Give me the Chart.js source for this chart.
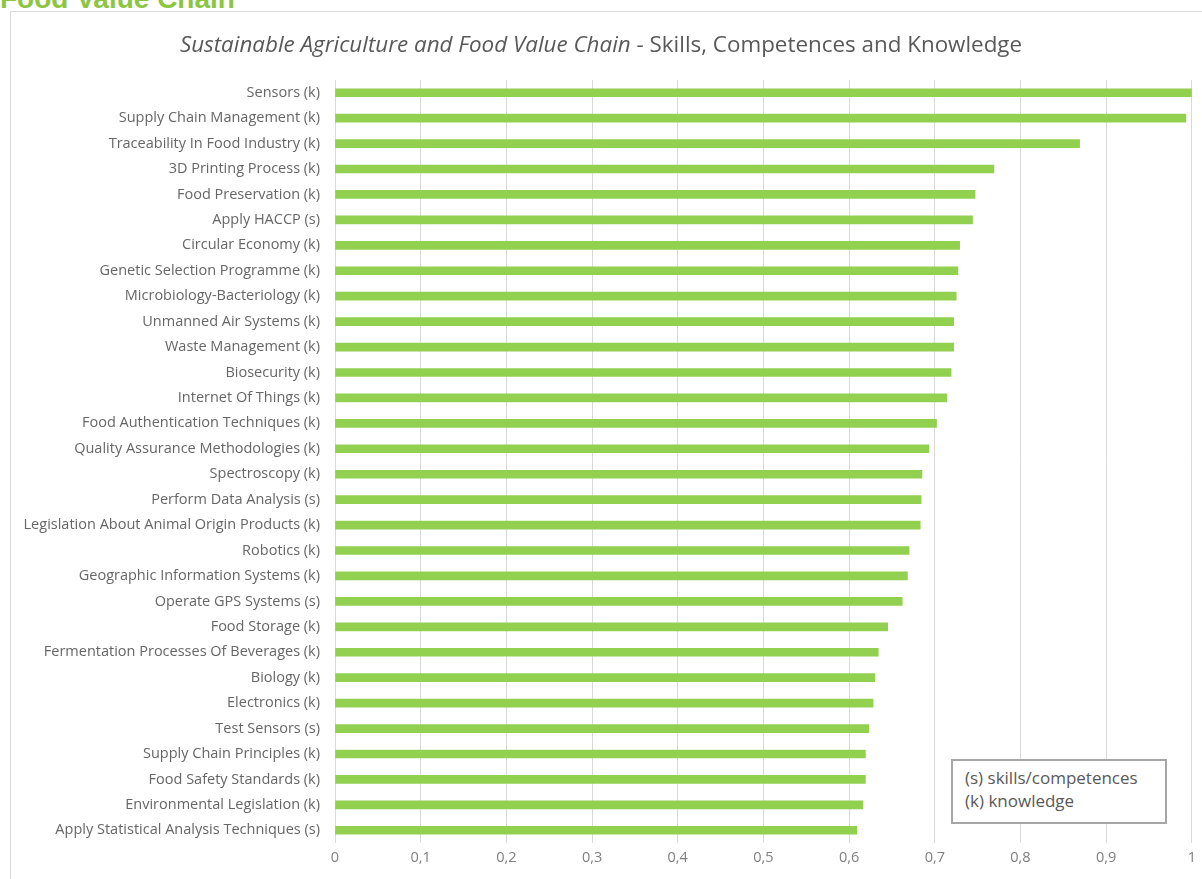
<!DOCTYPE html>
<html>
<head>
<meta charset="utf-8">
<script src="https://cdn.jsdelivr.net/npm/chart.js@4"></script>
<style>
    body { margin: 0; background: #fff; font-family: "Open Sans", sans-serif; }
    .page { position: relative; width: 1202px; height: 879px; overflow: hidden; }
    .header { position: absolute; left: 0; top: -17px; font: bold 28px "Liberation Sans", Arial, sans-serif; color: #8cc63f; }
    .frame { position: absolute; left: 10px; top: 11px; width: 1200px; height: 900px; border: 1px solid #d9d9d9; }
    .title { position: absolute; left: 0; top: 28px; width: 1202px; text-align: center; font-size: 22.4px; color: #595959; }
    .chart-box { position: absolute; left: 0; top: 0; width: 1202px; height: 879px; }
    .note { position: absolute; left: 951px; top: 759px; width: 200px; height: 56px; padding: 5px 0 0 12px;
            border: 2px solid #a6a6a6; background: #fff; font-size: 17px; line-height: 23px; color: #595959; }
</style>
</head>
<body>
<div class="page">
    <div class="header">Food Value Chain</div>
    <div class="frame"></div>
    <div class="chart-box"><canvas id="bar-chart"></canvas></div>
    <div class="title"><i>Sustainable Agriculture and Food Value Chain</i> - Skills, Competences and Knowledge</div>
    <div class="note">(s) skills/competences<br>(k) knowledge</div>
</div>
<script>
const categories = [
    "Sensors (k)", "Supply Chain Management (k)", "Traceability In Food Industry (k)",
    "3D Printing Process (k)", "Food Preservation (k)", "Apply HACCP (s)",
    "Circular Economy (k)", "Genetic Selection Programme (k)", "Microbiology-Bacteriology (k)",
    "Unmanned Air Systems (k)", "Waste Management (k)", "Biosecurity (k)",
    "Internet Of Things (k)", "Food Authentication Techniques (k)", "Quality Assurance Methodologies (k)",
    "Spectroscopy (k)", "Perform Data Analysis (s)", "Legislation About Animal Origin Products (k)",
    "Robotics (k)", "Geographic Information Systems (k)", "Operate GPS Systems (s)",
    "Food Storage (k)", "Fermentation Processes Of Beverages (k)", "Biology (k)",
    "Electronics (k)", "Test Sensors (s)", "Supply Chain Principles (k)",
    "Food Safety Standards (k)", "Environmental Legislation (k)", "Apply Statistical Analysis Techniques (s)"
];

const scores = [
    1.0, 0.993, 0.869,
    0.769, 0.747, 0.744,
    0.729, 0.727, 0.725,
    0.722, 0.722, 0.719,
    0.714, 0.702, 0.693,
    0.685, 0.684, 0.683,
    0.670, 0.668, 0.662,
    0.645, 0.634, 0.630,
    0.628, 0.623, 0.619,
    0.619, 0.616, 0.609
];

const xTickLabels = ["0", "0,1", "0,2", "0,3", "0,4", "0,5", "0,6", "0,7", "0,8", "0,9", "1"];

const labelFont = { family: "'Open Sans', sans-serif", size: 14.5 };

new Chart(document.getElementById("bar-chart"), {
    type: 'bar',
    data: {
        labels: categories,
        datasets: [
            {
                data: scores,
                backgroundColor: "#92d050",
                barThickness: 8
            }
        ]
    },
    options: {
        indexAxis: 'y',
        responsive: true,
        maintainAspectRatio: false,
        animation: false,
        layout: { padding: { top: 80, right: 10, bottom: 0, left: 0 } },
        plugins: {
            legend: { display: false },
            title: { display: false },
            tooltip: { enabled: false }
        },
        scales: {
            x: {
                min: 0,
                max: 1,
                ticks: {
                    stepSize: 0.1,
                    color: "#7f7f7f",
                    font: labelFont,
                    padding: 6,
                    callback: (v, i) => xTickLabels[i]
                },
                grid: { color: "#d9d9d9", drawTicks: false },
                border: { display: false },
                afterFit: (scale) => { scale.height = 36; }
            },
            y: {
                ticks: { color: "#666666", font: labelFont, padding: 15, autoSkip: false },
                grid: { display: false, drawTicks: false },
                border: { display: false },
                afterFit: (scale) => { scale.width = 335; }
            }
        }
    }
});
</script>
</body>
</html>
